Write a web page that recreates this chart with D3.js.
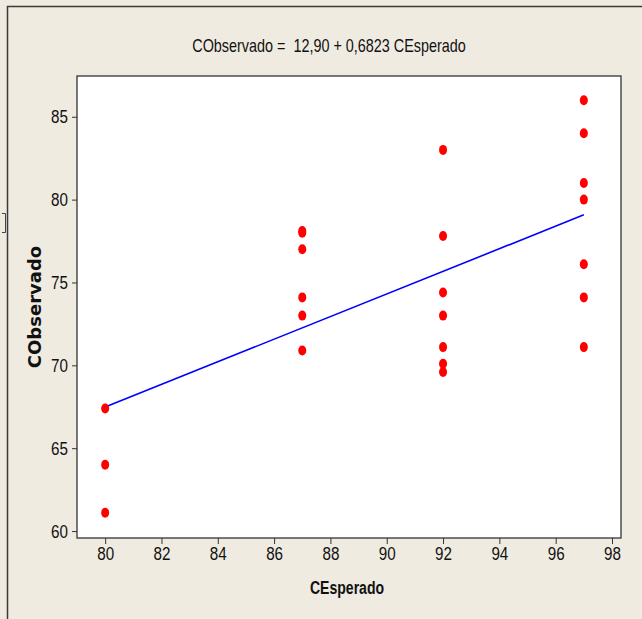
<!DOCTYPE html>
<html>
<head>
<meta charset="utf-8">
<script src="https://cdn.jsdelivr.net/npm/d3@7"></script>
<style>
  html, body { margin: 0; padding: 0; background: #EFEBE1; }
  svg { display: block; }
</style>
</head>
<body>
<svg id="chart" width="642" height="619"></svg>
<script>
// Expected vs observed concentration, with fitted regression line
const cEsperado = [80, 80, 80,
                   87, 87, 87, 87, 87, 87,
                   92, 92, 92, 92, 92, 92, 92,
                   97, 97, 97, 97, 97, 97, 97];
const cObservado = [67.4, 64.0, 61.1,
                    78.1, 78.0, 77.0, 74.1, 73.0, 70.9,
                    83.0, 77.8, 74.4, 73.0, 71.1, 70.1, 69.6,
                    86.0, 84.0, 81.0, 80.0, 76.1, 74.1, 71.1];
const xTicks = [80, 82, 84, 86, 88, 90, 92, 94, 96, 98];
const yTicks = [60, 65, 70, 75, 80, 85];
const intercept = 12.90;
const slope = 0.6823;
const fitRange = [80, 97];
const titleText = "CObservado =  12,90 + 0,6823 CEsperado";
const xLabel = "CEsperado";
const yLabel = "CObservado";

const svg = d3.select("#chart");
const plot = { left: 77, top: 76, right: 621, bottom: 538 };

const x = d3.scaleLinear().domain([79.0, 98.32]).range([plot.left, plot.right]);
const y = d3.scaleLinear().domain([59.58, 87.46]).range([plot.bottom, plot.top]);

// narrow sans: Liberation Sans squeezed horizontally
const narrowFont = "'Liberation Sans', Arial, sans-serif";
const squeeze = 0.8;

// outer frame (top and left edges)
svg.append("path")
  .attr("d", "M7.5,619 V6.5 H642")
  .attr("fill", "none")
  .attr("stroke", "#3a3a3a")
  .attr("stroke-width", 1.5);

// small bracket mark at left edge
svg.append("path")
  .attr("d", "M2,213.5 H5.5 V232.5 H2")
  .attr("fill", "none")
  .attr("stroke", "#444")
  .attr("stroke-width", 1);

// plot area
svg.append("rect")
  .attr("x", plot.left).attr("y", plot.top)
  .attr("width", plot.right - plot.left).attr("height", plot.bottom - plot.top)
  .attr("fill", "#ffffff")
  .attr("stroke", "#333")
  .attr("stroke-width", 1.3);

// axes
const xAxis = svg.append("g")
  .attr("transform", `translate(0,${plot.bottom})`)
  .call(d3.axisBottom(x).tickValues(xTicks).tickSize(6).tickPadding(3).tickFormat(d3.format("d")));
const yAxis = svg.append("g")
  .attr("transform", `translate(${plot.left},0)`)
  .call(d3.axisLeft(y).tickValues(yTicks).tickSize(5).tickPadding(3).tickFormat(d3.format("d")));
[xAxis, yAxis].forEach(g => {
  g.select(".domain").remove();
  g.selectAll(".tick line").attr("stroke", "#333");
  g.selectAll(".tick text")
    .attr("fill", "#111")
    .attr("transform", `scale(${squeeze},1)`)
    .style("font-family", narrowFont)
    .style("font-size", "19px");
});
yAxis.selectAll(".tick text").attr("x", -9 / squeeze);

// regression line
const fit = d3.line().x(d => x(d)).y(d => y(intercept + slope * d));
svg.append("path")
  .datum(fitRange)
  .attr("d", fit)
  .attr("fill", "none")
  .attr("stroke", "#0000ff")
  .attr("stroke-width", 1.6);

// observations
svg.append("g")
  .selectAll("ellipse")
  .data(cEsperado.map((v, i) => [v, cObservado[i]]))
  .join("ellipse")
  .attr("cx", d => x(d[0]))
  .attr("cy", d => y(d[1]))
  .attr("rx", 4)
  .attr("ry", 5)
  .attr("fill", "#ff0000");

// title
svg.append("text")
  .attr("transform", `translate(329,52) scale(${squeeze},1)`)
  .attr("text-anchor", "middle")
  .style("font-family", narrowFont)
  .style("font-size", "18px")
  .attr("fill", "#111")
  .attr("xml:space", "preserve")
  .text(titleText);

// axis titles
svg.append("text")
  .attr("transform", `translate(347,594) scale(0.74,1)`)
  .attr("text-anchor", "middle")
  .style("font-family", narrowFont)
  .style("font-weight", "bold")
  .style("font-size", "19px")
  .attr("fill", "#111")
  .text(xLabel);

svg.append("text")
  .attr("transform", "translate(41,307) rotate(-90)")
  .attr("text-anchor", "middle")
  .style("font-family", "'DejaVu Sans', sans-serif")
  .style("font-weight", "bold")
  .style("font-size", "18px")
  .attr("fill", "#111")
  .text(yLabel);
</script>
</body>
</html>
